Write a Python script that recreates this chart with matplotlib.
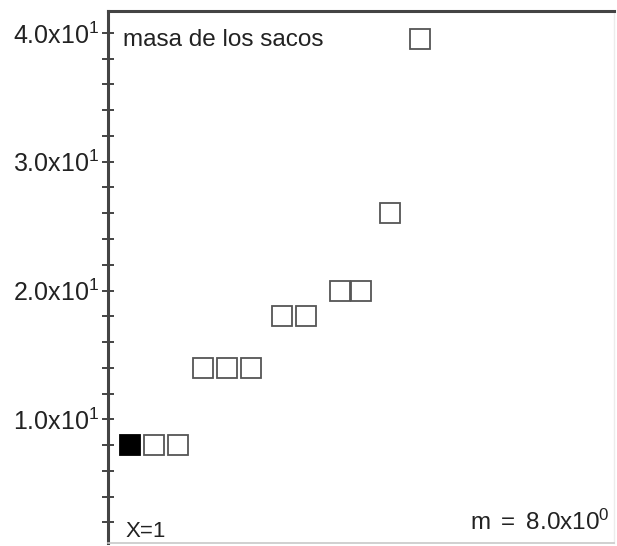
import matplotlib
matplotlib.use("Agg")
import matplotlib.pyplot as plt
from matplotlib.ticker import MultipleLocator, FixedLocator

# -----------------------------
# DATA
# -----------------------------
sack_x = [1.0, 2.0, 3.0, 4.05, 5.03, 6.03, 7.34, 8.35, 9.76, 10.63, 11.82, 13.10]
sack_mass = [8, 8, 8, 14, 14, 14, 18, 18, 20, 20, 26, 39.5]
highlight = [True] + [False] * 11

major_ticks = [10, 20, 30, 40]
major_labels = ["1.0x10$^{1}$", "2.0x10$^{1}$", "3.0x10$^{1}$", "4.0x10$^{1}$"]

title_text = "masa de los sacos"
x_text = "X=1"
m_text = "m $=$ 8.0x10$^{0}$"

# -----------------------------
# STYLE
# -----------------------------
plt.rcParams["font.family"] = ["Liberation Sans", "DejaVu Sans"]
plt.rcParams["mathtext.fontset"] = "custom"
plt.rcParams["mathtext.rm"] = "Liberation Sans"
plt.rcParams["mathtext.it"] = "Liberation Sans"

TEXT = "#222222"
AXIS = "#444444"

fig = plt.figure(figsize=(6.17, 5.46), dpi=100)
ax = fig.add_axes([108 / 617, 3 / 546, 506 / 617, 532 / 546])

# points
for x, y, h in zip(sack_x, sack_mass, highlight):
    ax.plot(x, y, marker="s", markersize=13.8,
            markerfacecolor="black" if h else "white",
            markeredgecolor="black" if h else "#555555",
            markeredgewidth=1.3, linestyle="none", zorder=3)

ax.set_xlim(0.083, 21.17)
ax.set_ylim(0.4, 41.7)

# spines
ax.spines["left"].set_color(AXIS)
ax.spines["left"].set_linewidth(2.2)
ax.spines["top"].set_color(AXIS)
ax.spines["top"].set_linewidth(2.2)
ax.spines["right"].set_color("#ececec")
ax.spines["right"].set_linewidth(1.0)
ax.spines["bottom"].set_color("#c8c8c8")
ax.spines["bottom"].set_linewidth(1.2)

# ticks
ax.set_xticks([])
ax.yaxis.set_major_locator(FixedLocator(major_ticks))
ax.set_yticklabels(major_labels)
ax.yaxis.set_minor_locator(MultipleLocator(2))
ax.tick_params(axis="y", which="both", direction="inout", length=8, width=1.4,
               color=AXIS, labelsize=18, labelcolor=TEXT, pad=2)

# annotations
ax.text(123 / 617, 1 - 46 / 546, title_text, transform=fig.transFigure,
        fontsize=17.5, color=TEXT, ha="left", va="baseline")
ax.text(126 / 617, 1 - 537 / 546, x_text, transform=fig.transFigure,
        fontsize=16, color=TEXT, ha="left", va="baseline")
ax.text(610 / 617, 1 - 530 / 546, m_text, transform=fig.transFigure,
        fontsize=17.5, color=TEXT, ha="right", va="baseline")

fig.savefig("out.png", dpi=100)
